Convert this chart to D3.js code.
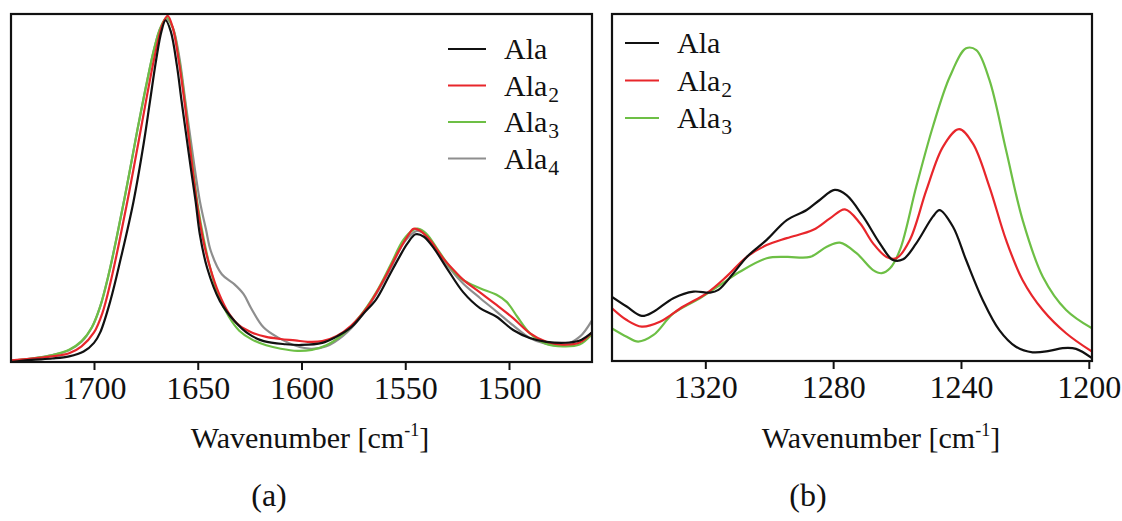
<!DOCTYPE html>
<html><head><meta charset="utf-8">
<script src="https://cdn.jsdelivr.net/npm/d3@7"></script>
<style>
html,body{margin:0;padding:0;background:#fff;}
svg{display:block;}
</style></head>
<body>
<svg id="c" width="1122" height="521"></svg>
<script>
// ---------- DATA ----------
const seriesNames = ["Ala", "Ala2", "Ala3", "Ala4"];
const seriesColors = ["#111111", "#e8262b", "#6dbf45", "#8e8e8e"];

const ticksA = [1700, 1650, 1600, 1550, 1500];
const ticksB = [1320, 1280, 1240, 1200];

// Panel (a): [wavenumber, normalized absorbance]
const alaA = [[1740,0.0],[1730,0.006],[1720,0.01],[1712,0.016],[1705,0.03],[1700,0.055],[1697,0.085],[1692,0.178],[1687,0.30],[1681,0.46],[1676,0.63],[1673,0.75],[1670,0.87],[1667.5,0.95],[1665.5,0.982],[1663,0.95],[1660,0.85],[1657.8,0.75],[1655.5,0.65],[1653.4,0.559],[1651,0.46],[1649,0.367],[1645.5,0.271],[1639.3,0.175],[1632.3,0.118],[1625.3,0.08],[1618.2,0.06],[1607.7,0.051],[1600,0.049],[1590,0.055],[1584,0.07],[1576,0.1],[1570,0.14],[1564,0.18],[1558,0.245],[1553,0.3],[1549,0.34],[1545,0.367],[1541,0.36],[1536,0.325],[1530,0.27],[1522,0.2],[1514,0.155],[1506,0.13],[1498,0.092],[1490,0.069],[1482,0.058],[1471,0.056],[1465,0.064],[1460,0.085]];
const ala2A = [[1740,0.005],[1730,0.01],[1720,0.016],[1712,0.025],[1706,0.045],[1700,0.085],[1696,0.14],[1692,0.23],[1688,0.34],[1683,0.49],[1678,0.65],[1674,0.78],[1670,0.9],[1667,0.97],[1664.5,0.995],[1662,0.96],[1659,0.86],[1656,0.73],[1653,0.58],[1650,0.44],[1647,0.34],[1644,0.27],[1640,0.2],[1635,0.14],[1630,0.105],[1624,0.085],[1617,0.072],[1610,0.066],[1603,0.062],[1597,0.058],[1590,0.06],[1583,0.075],[1576,0.105],[1568,0.16],[1560,0.24],[1553,0.32],[1549,0.36],[1546,0.383],[1543,0.378],[1538,0.35],[1532,0.3],[1526,0.26],[1522,0.236],[1514,0.2],[1506,0.164],[1498,0.126],[1490,0.083],[1482,0.058],[1474,0.05],[1466,0.056],[1460,0.085]];
const ala3A = [[1740,0.004],[1730,0.01],[1720,0.02],[1712,0.035],[1706,0.06],[1701,0.1],[1697,0.16],[1693,0.25],[1689,0.36],[1684,0.51],[1679,0.67],[1675,0.79],[1671,0.9],[1668,0.96],[1665,0.99],[1662,0.96],[1659,0.87],[1656,0.74],[1653,0.59],[1650,0.45],[1647,0.35],[1644,0.27],[1640,0.19],[1635,0.13],[1630,0.09],[1624,0.065],[1617,0.048],[1610,0.038],[1602,0.032],[1595,0.035],[1588,0.048],[1580,0.08],[1572,0.13],[1564,0.2],[1557,0.28],[1551,0.35],[1546,0.38],[1544,0.383],[1540,0.37],[1534,0.32],[1528,0.27],[1522,0.235],[1514,0.212],[1506,0.193],[1501,0.172],[1496,0.13],[1490,0.083],[1482,0.052],[1474,0.045],[1466,0.05],[1460,0.08]];
const ala4A = [[1740,0.004],[1730,0.01],[1720,0.02],[1712,0.034],[1706,0.058],[1701,0.1],[1697,0.16],[1693,0.25],[1689,0.36],[1684,0.51],[1679,0.67],[1675,0.79],[1671,0.9],[1668,0.96],[1665,0.985],[1662,0.96],[1659,0.88],[1656,0.751],[1652.5,0.6],[1649,0.463],[1646,0.38],[1643.7,0.319],[1638.4,0.252],[1632.3,0.223],[1627.9,0.195],[1624.4,0.156],[1618.2,0.099],[1611.2,0.07],[1602.4,0.046],[1595.4,0.038],[1588,0.045],[1580,0.075],[1572,0.125],[1564,0.195],[1557,0.27],[1551,0.34],[1546,0.372],[1544,0.377],[1540,0.365],[1534,0.315],[1528,0.265],[1522,0.225],[1514,0.184],[1506,0.145],[1498,0.105],[1490,0.069],[1482,0.052],[1474,0.048],[1466,0.072],[1460,0.12]];

// Panel (b)
const alaB = [[1349.2,0.185],[1344.6,0.157],[1339.9,0.130],[1336.2,0.142],[1330,0.181],[1323.7,0.20],[1318.5,0.197],[1315.9,0.205],[1311.2,0.253],[1307,0.30],[1300.8,0.349],[1294.5,0.406],[1288.3,0.435],[1284.2,0.464],[1279.5,0.493],[1275.8,0.478],[1270.6,0.416],[1265.4,0.339],[1261.3,0.291],[1258.1,0.293],[1254,0.339],[1248.8,0.416],[1246.7,0.435],[1242.5,0.387],[1238.4,0.291],[1233.2,0.176],[1228,0.089],[1222.8,0.041],[1217.6,0.025],[1212.4,0.029],[1208.2,0.037],[1204,0.035],[1199,0.008]];
const ala2B = [[1349.2,0.152],[1344.6,0.118],[1339.9,0.099],[1334.2,0.113],[1326.9,0.157],[1319.6,0.195],[1313.4,0.243],[1307,0.30],[1300.8,0.334],[1294.5,0.354],[1286.2,0.378],[1281,0.411],[1276.3,0.437],[1271.6,0.397],[1267.5,0.339],[1263.3,0.30],[1260.2,0.296],[1256,0.349],[1250.8,0.493],[1245.6,0.618],[1240.6,0.668],[1236.3,0.627],[1231.1,0.502],[1225.9,0.349],[1220.7,0.233],[1214.4,0.147],[1207.1,0.080],[1199,0.027]];
const ala3B = [[1349.2,0.094],[1344.6,0.070],[1341,0.056],[1336.2,0.075],[1330,0.137],[1321.7,0.181],[1315.4,0.219],[1309.2,0.257],[1300.8,0.296],[1294.5,0.30],[1287.2,0.30],[1282,0.329],[1277.9,0.341],[1272.6,0.31],[1267.5,0.262],[1264.8,0.253],[1262.2,0.267],[1259.1,0.32],[1254,0.502],[1248.8,0.675],[1243.5,0.819],[1238.4,0.901],[1235.2,0.896],[1231.1,0.81],[1225.9,0.608],[1220.7,0.406],[1214.4,0.243],[1207.1,0.147],[1199,0.094]];

// ---------- DRAW ----------
const FONT = '"Liberation Serif"';
const svg = d3.select("#c");
const FS_TICK = 32, FS_LAB = 30, FS_LEG = 30, FS_TAG = 32;

function txt(sel) { return sel.attr("font-family", FONT).attr("fill", "#111"); }

function panel(cfg) {
  const x = d3.scaleLinear().domain(cfg.xDomain).range([cfg.left, cfg.right]);
  const y = d3.scaleLinear().domain([0, 1]).range([cfg.bottom, cfg.top]);
  const g = svg.append("g");
  const line = d3.line().x(d => x(d[0])).y(d => y(d[1])).curve(d3.curveCatmullRom.alpha(0.5));
  const clipId = "clip" + cfg.id;
  svg.append("clipPath").attr("id", clipId).append("rect")
    .attr("x", cfg.left).attr("y", cfg.top).attr("width", cfg.right - cfg.left).attr("height", cfg.bottom - cfg.top);
  cfg.series.forEach(s => {
    g.append("path").attr("d", line(s.data)).attr("fill", "none")
      .attr("stroke", s.color).attr("stroke-width", 2.2).attr("clip-path", `url(#${clipId})`);
  });
  const ax = g.append("g").attr("transform", `translate(0,${cfg.bottom})`)
    .call(d3.axisBottom(x).tickValues(cfg.ticks).tickSize(8).tickSizeOuter(0).tickPadding(6).tickFormat(d3.format("d")));
  ax.attr("font-family", FONT).attr("font-size", FS_TICK);
  ax.select(".domain").remove();
  ax.selectAll(".tick line").attr("stroke", "#111").attr("stroke-width", 2);
  txt(ax.selectAll(".tick text")).attr("font-size", FS_TICK);
  g.append("rect").attr("x", cfg.left).attr("y", cfg.top).attr("width", cfg.right - cfg.left).attr("height", cfg.bottom - cfg.top)
    .attr("fill", "none").attr("stroke", "#111").attr("stroke-width", 2.2);
  // legend
  const lg = g.append("g");
  cfg.legend.forEach((s, i) => {
    const yy = cfg.legY + i * cfg.legStep;
    lg.append("line").attr("x1", cfg.legX).attr("x2", cfg.legX + cfg.legLen).attr("y1", yy).attr("y2", yy)
      .attr("stroke", s.color).attr("stroke-width", 2.2);
    const t = txt(lg.append("text")).attr("x", cfg.legX + cfg.legLen + 18).attr("y", yy + 10).attr("font-size", FS_LEG);
    t.append("tspan").text("Ala");
    if (s.sub) t.append("tspan").attr("font-size", FS_LEG * 0.72).attr("dy", 6).attr("dx", 1).text(s.sub);
  });
  // x label
  const xl = txt(g.append("text")).attr("x", cfg.labelX).attr("y", 448).attr("text-anchor", "middle").attr("font-size", FS_LAB);
  xl.append("tspan").text("Wavenumber [cm");
  xl.append("tspan").attr("font-size", FS_LAB * 0.6).attr("dy", -12).text("-1");
  xl.append("tspan").attr("dy", 12).text("]");
  txt(g.append("text")).attr("x", cfg.tagX).attr("y", 506).attr("text-anchor", "middle").attr("font-size", FS_TAG).text(cfg.tag);
}

const colorOf = i => seriesColors[i];
panel({
  id: "a", xDomain: [1740, 1460], left: 11, right: 592, top: 14, bottom: 362, ticks: ticksA,
  series: [
    {data: ala4A, color: colorOf(3)}, {data: ala3A, color: colorOf(2)},
    {data: ala2A, color: colorOf(1)}, {data: alaA, color: colorOf(0)}
  ],
  legend: [{color: colorOf(0), sub: ""}, {color: colorOf(1), sub: "2"}, {color: colorOf(2), sub: "3"}, {color: colorOf(3), sub: "4"}],
  legX: 448, legLen: 38, legY: 49, legStep: 36.5,
  labelX: 310, tagX: 269, tag: "(a)"
});
panel({
  id: "b", xDomain: [1349.2, 1199], left: 612, right: 1092, top: 14, bottom: 361, ticks: ticksB,
  series: [
    {data: ala3B, color: colorOf(2)}, {data: ala2B, color: colorOf(1)}, {data: alaB, color: colorOf(0)}
  ],
  legend: [{color: colorOf(0), sub: ""}, {color: colorOf(1), sub: "2"}, {color: colorOf(2), sub: "3"}],
  legX: 625, legLen: 34, legY: 43, legStep: 37.5,
  labelX: 881, tagX: 808, tag: "(b)"
});
</script>
</body></html>
